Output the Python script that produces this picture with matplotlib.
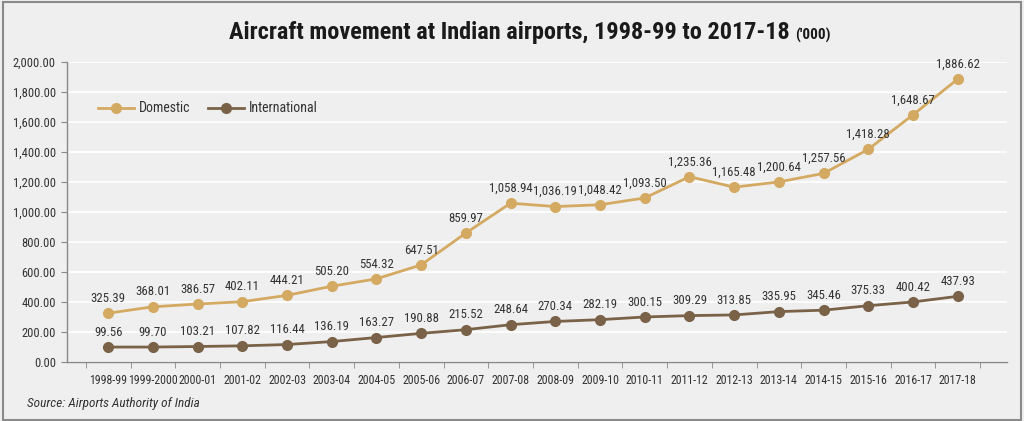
import matplotlib
matplotlib.use("Agg")
import matplotlib.pyplot as plt
from matplotlib.patches import Rectangle
import matplotlib.font_manager as fm

years = ["1998-99", "1999-2000", "2000-01", "2001-02", "2002-03", "2003-04", "2004-05",
         "2005-06", "2006-07", "2007-08", "2008-09", "2009-10", "2010-11", "2011-12",
         "2012-13", "2013-14", "2014-15", "2015-16", "2016-17", "2017-18"]
domestic = [325.39, 368.01, 386.57, 402.11, 444.21, 505.20, 554.32, 647.51, 859.97, 1058.94,
            1036.19, 1048.42, 1093.50, 1235.36, 1165.48, 1200.64, 1257.56, 1418.28, 1648.67, 1886.62]
international = [99.56, 99.70, 103.21, 107.82, 116.44, 136.19, 163.27, 190.88, 215.52, 248.64,
                 270.34, 282.19, 300.15, 309.29, 313.85, 335.95, 345.46, 375.33, 400.42, 437.93]
yticks = [0, 200, 400, 600, 800, 1000, 1200, 1400, 1600, 1800, 2000]

# find condensed font files
pri = ["liberation sans narrow", "roboto condensed", "open sans condensed", "dejavu sans condensed"]
def rank(f):
    low = (f.name + " " + f.fname).lower().replace(" ", "").replace("-", "").replace("_", "")
    for i, p in enumerate(pri):
        if p.replace(" ", "") in low:
            return i
    return 99
def is_cond(f):
    low = (f.name + " " + f.fname).lower()
    return "narrow" in low or "condensed" in low
def is_ital(f):
    low = (f.name + " " + f.fname).lower()
    return "oblique" in low or "italic" in low or f.style in ("italic", "oblique")
cands = sorted([f for f in fm.fontManager.ttflist if is_cond(f)], key=rank)
reg_file = bold_file = ital_file = None
for f in cands:
    low = f.fname.lower()
    if is_ital(f):
        if ital_file is None and f.weight in ("normal", 400, "regular", "book") and "bold" not in low \
                and "light" not in low:
            ital_file = f.fname
    else:
        if reg_file is None and f.weight in ("normal", 400, "regular", "book") and "light" not in low:
            reg_file = f.fname
        if bold_file is None and f.weight in ("bold", 700):
            bold_file = f.fname

def fp(size, kind="reg"):
    fn = {"reg": reg_file, "bold": bold_file or reg_file, "ital": ital_file or reg_file}[kind]
    if fn:
        return fm.FontProperties(fname=fn, size=size)
    return fm.FontProperties(family="DejaVu Sans", size=size, stretch="condensed",
                             weight="bold" if kind == "bold" else "normal",
                             style="italic" if kind == "ital" else "normal")

BG = "#efefef"
DOM = "#d4aa62"
INT = "#7a6249"
TXT = "#333333"

fig = plt.figure(figsize=(10.24, 4.21), dpi=100, facecolor=BG)
fig.patches.append(Rectangle((0.003, 0.003), 0.994, 0.992, transform=fig.transFigure,
                             fill=False, edgecolor="#8a8a8a", linewidth=1.5))
ax = fig.add_axes([67/1024, 1-362/421, (1007-67)/1024, 300/421])
ax.set_facecolor(BG)

x = list(range(len(years)))
ax.plot(x, domestic, color=DOM, lw=2, marker="o", ms=7, label="Domestic", zorder=3)
ax.plot(x, international, color=INT, lw=2, marker="o", ms=7, label="International", zorder=3)

for xi, v in zip(x, domestic):
    ax.annotate(f"{v:,.2f}", (xi, v), xytext=(0, 6), textcoords="offset points",
                ha="center", va="bottom", fontproperties=fp(9.2), color=TXT)
for xi, v in zip(x, international):
    ax.annotate(f"{v:,.2f}", (xi, v), xytext=(0, 6), textcoords="offset points",
                ha="center", va="bottom", fontproperties=fp(9.2), color=TXT)

ax.set_ylim(0, 2000)
ax.set_xlim(-0.92, len(years) - 1 + 1.1)
ax.set_yticks(yticks)
ax.set_yticklabels([f"{t:,.2f}" for t in yticks], color=TXT)
for t in ax.get_yticklabels():
    t.set_fontproperties(fp(9))
ax.set_xticks(x)
ax.set_xticklabels(years, color=TXT)
for t in ax.get_xticklabels():
    t.set_fontproperties(fp(8.6))
ax.tick_params(axis="x", which="major", length=0, pad=9)
ax.set_xticks([i + 0.5 for i in range(-1, len(years))], minor=True)
ax.tick_params(axis="x", which="minor", length=4, color="#888888")
ax.tick_params(axis="y", length=4, color="#888888", pad=4)
ax.grid(axis="y", color="white", lw=1.2, zorder=0)
ax.set_axisbelow(True)
for s in ["top", "right"]:
    ax.spines[s].set_visible(False)
for s in ["left", "bottom"]:
    ax.spines[s].set_color("#888888")
    ax.spines[s].set_linewidth(1)

leg = ax.legend(loc="upper left", bbox_to_anchor=(0.02, 0.91), ncol=2, frameon=False,
                prop=fp(10), handlelength=2.6, columnspacing=1.3, handletextpad=0.3)
for t in leg.get_texts():
    t.set_color(TXT)

t1 = fig.text(0.5, 1-33/421, "Aircraft movement at Indian airports, 1998-99 to 2017-18 ",
              ha="center", va="center", fontproperties=fp(17.5, "bold"), color="#1a1a1a")
fig.canvas.draw()
bb = t1.get_window_extent()
fig.text(bb.x1/1024, 1-35/421, "('000)", ha="left", va="center", fontproperties=fp(11, "bold"),
         color="#1a1a1a")

fig.text(27/1024, 1-403/421, "Source: Airports Authority of India", fontproperties=fp(9.5, "ital"),
         color=TXT, va="center")

fig.savefig("out.png", dpi=100, facecolor=BG)
